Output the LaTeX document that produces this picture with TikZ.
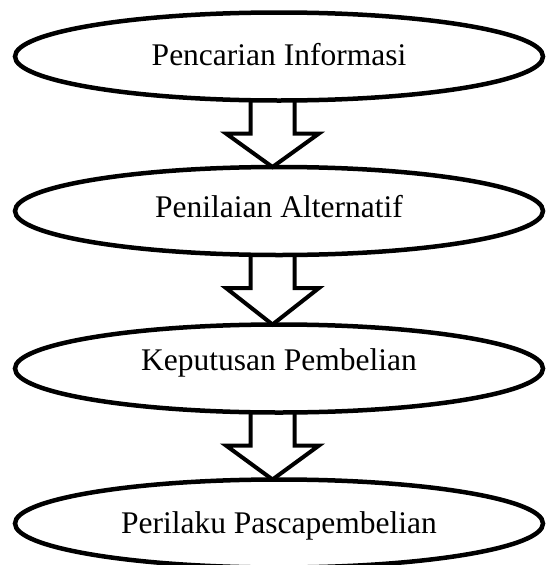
\documentclass[tikz,border=0pt]{standalone}
\usepackage{fontspec}
\setmainfont{Liberation Serif}
\usetikzlibrary{shapes.geometric,calc}
\begin{document}
\begin{tikzpicture}[x=1pt,y=1pt,
  stage/.style={ellipse, draw, line width=4.5pt, minimum width=528pt, minimum height=88pt,
    inner sep=0pt, outer sep=0pt, font=\fontsize{31.5pt}{36pt}\selectfont,
    text height=20pt, text depth=#1},
  stage/.default=3pt,
  fat/.style={draw, line width=4pt, miter limit=10}]
\useasboundingbox (0,0) rectangle (546,-565);
\node[stage=3pt] (e1) at (279,-56.5) {Pencarian Informasi};
\node[stage=8pt] (e2) at (279,-211) {Penilaian Alternatif};
\node[stage=17pt] (e3) at (279,-368.5) {Keputusan Pembelian};
\node[stage=1pt] (e4) at (279,-523.5) {Perilaku Pascapembelian};
\foreach \a/\b in {e1/e2,e2/e3,e3/e4}{
  \draw[fat] ($(\a.south)+(-28.5,0)$) -- ++(0,-33) -- ++(-24.5,0)
    -- ($(\b.north)+(-6.5,0)$) -- ($(\a.south)+(40,-33)$) -- ++(-24.5,0) -- ++(0,33);
}
\end{tikzpicture}
\end{document}
